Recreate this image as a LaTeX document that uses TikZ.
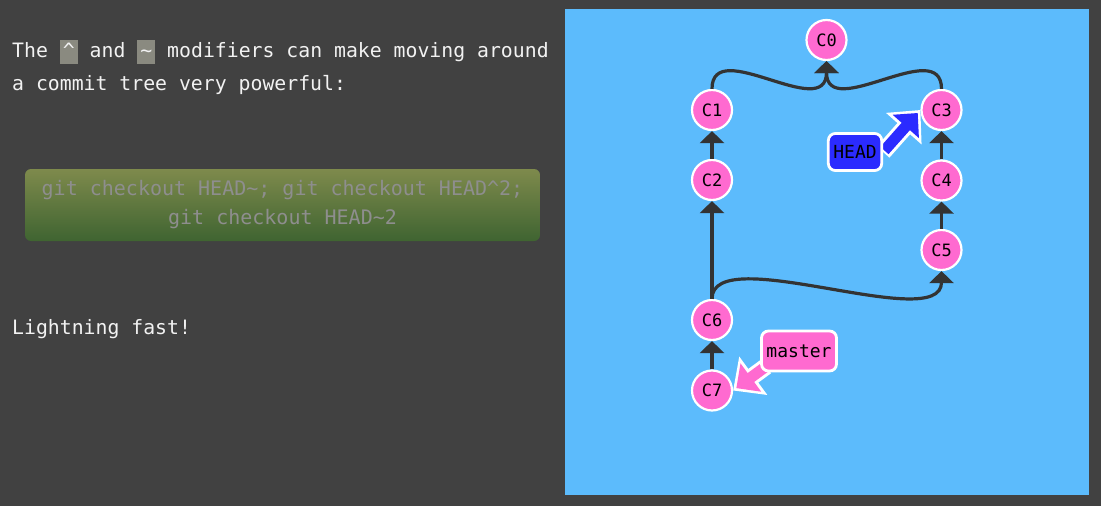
\documentclass[tikz,border=0pt]{standalone}
\usepackage{fontspec}
\setmonofont{DejaVu Sans Mono}
\usetikzlibrary{arrows.meta}

\definecolor{darkbg}{HTML}{414141}
\definecolor{panelblue}{HTML}{5CBBFC}
\definecolor{commitpink}{HTML}{FF6AD0}
\definecolor{headblue}{HTML}{2B2BFF}
\definecolor{edgegray}{HTML}{333333}
\definecolor{cmdtop}{HTML}{7E8A4C}
\definecolor{cmdbot}{HTML}{3F6431}
\definecolor{cmdtext}{HTML}{8E8E8E}
\definecolor{keygray}{HTML}{8A8A80}
\definecolor{prosewhite}{HTML}{F2F2F2}

\pgfdeclarelayer{panel}
\pgfdeclarelayer{pointers}
\pgfsetlayers{panel,pointers,main}

\newcommand{\keycap}[1]{{\setlength{\fboxsep}{3pt}\colorbox{keygray}{\vphantom{Ag}#1}}}

\tikzset{
  prose/.style={text=prosewhite, inner sep=0pt, font=\ttfamily\fontsize{19.8}{24}\selectfont},
  commit/.style={circle, fill=commitpink, draw=white, line width=2.2pt, minimum size=40pt,
    inner sep=0pt, font=\ttfamily\fontsize{17}{17}\selectfont},
  parent/.style={edgegray, line width=3.2pt, -{Triangle[length=12pt,width=24pt]}},
  branchbox/.style={draw=white, line width=2.8pt, rounded corners=7pt, inner xsep=5pt,
    minimum height=37pt, font=\ttfamily\fontsize{18}{18}\selectfont},
  ptrout/.style={white, line width=17pt, -{Triangle[length=25pt,width=46pt]}},
  ptrin/.style={line width=11pt, -{Triangle[length=18pt,width=34pt]}, shorten >=4pt, shorten <=2pt}
}

\begin{document}
\begin{tikzpicture}[x=1pt, y=-1pt]
    \useasboundingbox (0,0) rectangle (1101,506);
    \begin{pgfonlayer}{panel}
    \fill[darkbg] (0,0) rectangle (1101,506);
    \fill[panelblue] (565,9) rectangle (1089,495);
    \end{pgfonlayer}

    % Text on the left
    \node[prose, anchor=base west] (intro1) at (12,57)
        {The \keycap{\textasciicircum} and \keycap{\textasciitilde} modifiers can make moving around};
    \node[prose, anchor=base west] (intro2) at (12,90) {a commit tree very powerful:};
    \node[prose, anchor=base west] (fast) at (12,334) {Lightning fast!};

    % command button
    \node[rounded corners=6pt, top color=cmdtop, bottom color=cmdbot, minimum width=515pt,
        minimum height=72pt, text=cmdtext, align=center,
        font=\ttfamily\fontsize{20}{29}\selectfont] (cmd) at (282.5,205)
        {git checkout HEAD\textasciitilde; git checkout HEAD\textasciicircum 2;\\
         git checkout HEAD\textasciitilde 2};

    % Commits
    \node[commit] (C0) at (826.5,40) {C0};
    \node[commit] (C1) at (712,110) {C1};
    \node[commit] (C2) at (712,180) {C2};
    \node[commit] (C3) at (941.5,110) {C3};
    \node[commit] (C4) at (941.5,180.5) {C4};
    \node[commit] (C5) at (941.5,250) {C5};
    \node[commit] (C6) at (712,320) {C6};
    \node[commit] (C7) at (712,390.5) {C7};

    % parent links
    \draw[parent] (C1.north) .. controls +(0,-54) and +(0,62) .. (C0.south);
    \draw[parent] (C3.north) .. controls +(0,-54) and +(0,62) .. (C0.south);
    \draw[parent] (C2) -- (C1);
    \draw[parent] (C4) -- (C3);
    \draw[parent] (C5) -- (C4);
    \draw[parent] (C6) -- (C2);
    \draw[parent] (C6.north) .. controls +(0,-59) and +(0,64) .. (C5.south);
    \draw[parent] (C7) -- (C6);

    % Branch labels
    \node[branchbox, fill=headblue] (head) at (855,152) {HEAD};
    \node[branchbox, fill=commitpink, minimum height=40pt] (master) at (799,351) {master};
    \coordinate (mtail) at ([shift={(6,-6)}]master.south west);

    \begin{pgfonlayer}{pointers}
    \draw[ptrout] (head.east) -- (C3.west);
    \draw[ptrin, headblue] (head.east) -- (C3.west);
    \draw[ptrout] (mtail) -- (C7.east);
    \draw[ptrin, commitpink] (mtail) -- (C7.east);
    \end{pgfonlayer}
\end{tikzpicture}
\end{document}
